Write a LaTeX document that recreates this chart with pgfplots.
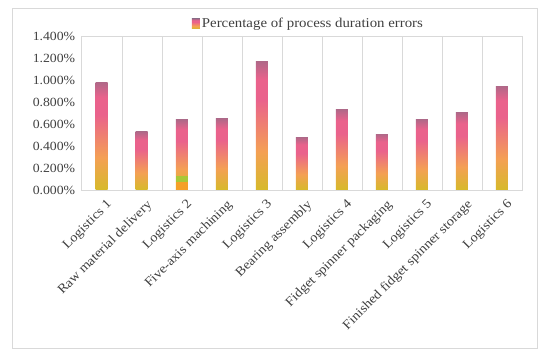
\documentclass[border=0pt]{standalone}
\usepackage{pgfplots}
\pgfplotsset{compat=1.18}
\usepackage{fontspec}
\setmainfont{Liberation Serif}[FakeStretch=1.1]
\definecolor{cY}{RGB}{214,186,42}
\definecolor{cO}{RGB}{244,160,84}
\definecolor{cP}{RGB}{234,98,140}
\definecolor{cM}{RGB}{176,104,136}
\definecolor{gridc}{RGB}{217,217,217}
\definecolor{txt}{RGB}{64,64,64}
\definecolor{cG}{RGB}{168,200,56}
\definecolor{cOr}{RGB}{245,160,40}
\pgfdeclareverticalshading{barshade}{100bp}{color(0bp)=(cY); color(25bp)=(cY); color(40bp)=(cO); color(60bp)=(cP); color(68bp)=(cP); color(75bp)=(cM); color(100bp)=(cM)}
\pgfplotsset{mybar/.style={ybar, bar width=12pt, bar shift=0pt, draw=none, shade, shading=barshade}}
\begin{document}
\begin{tikzpicture}
\useasboundingbox (-81.7pt,-168pt) rectangle (468.3pt,190pt);
\fill[white] (-81.7pt,-168pt) rectangle (468.3pt,190pt);
\draw[gridc] (-69.7pt,-158pt) rectangle (455.3pt,182pt);
\begin{axis}[
  at={(0pt,0pt)}, anchor=south west,
  scale only axis, width=440.3pt, height=154pt,
  xmin=-0.5, xmax=10.5, ymin=0, ymax=1.4,
  axis line style={gridc},
  xtick={0,1,2,3,4,5,6,7,8,9,10},
  xticklabels={Logistics 1, Raw material delivery, Logistics 2, Five-axis machining, Logistics 3, Bearing assembly, Logistics 4, Fidget spinner packaging, Logistics 5, Finished fidget spinner storage, Logistics 6},
  minor xtick={0.5,1.5,2.5,3.5,4.5,5.5,6.5,7.5,8.5,9.5},
  xminorgrids=true, minor grid style={gridc},
  major tick length=0pt, minor tick length=0pt,
  ytick={0,0.2,0.4,0.6,0.8,1.0,1.2,1.4},
  yticklabel={\pgfmathprintnumber[fixed,fixed zerofill,precision=3]{\tick}\%},
  /pgf/number format/assume math mode=true,
  yticklabel style={font=\fontsize{12.5}{14}\selectfont, text=txt, xshift=-3pt},
  xticklabel style={font=\fontsize{13}{14}\selectfont, text=txt, rotate=45, anchor=north east, inner sep=1pt, yshift=-8pt, xshift=-2pt},
  legend style={at={(rel axis cs:0.515,1.078)}, anchor=center, draw=none, fill=none, font=\fontsize{13.5}{15}\selectfont, text=txt, inner sep=0pt},
  legend image code/.code={\shade[shading=barshade] (0pt,-5pt) rectangle (8pt,5pt);},
]
\addplot[mybar] coordinates {(0,0.979)};
\addlegendentry{Percentage of process duration errors}
\addplot[mybar, forget plot] coordinates {(1,0.528)};
\addplot[mybar, forget plot] coordinates {(2,0.637)};
\addplot[mybar, forget plot] coordinates {(3,0.648)};
\addplot[mybar, forget plot] coordinates {(4,1.170)};
\addplot[mybar, forget plot] coordinates {(5,0.478)};
\addplot[mybar, forget plot] coordinates {(6,0.733)};
\addplot[mybar, forget plot] coordinates {(7,0.509)};
\addplot[mybar, forget plot] coordinates {(8,0.641)};
\addplot[mybar, forget plot] coordinates {(9,0.703)};
\addplot[mybar, forget plot] coordinates {(10,0.945)};
\addplot[ybar, bar width=12pt, bar shift=0pt, draw=none, fill=cG, forget plot] coordinates {(2,0.125)};
\addplot[ybar, bar width=12pt, bar shift=0pt, draw=none, fill=cOr, forget plot] coordinates {(2,0.07)};
\end{axis}
\end{tikzpicture}
\end{document}
